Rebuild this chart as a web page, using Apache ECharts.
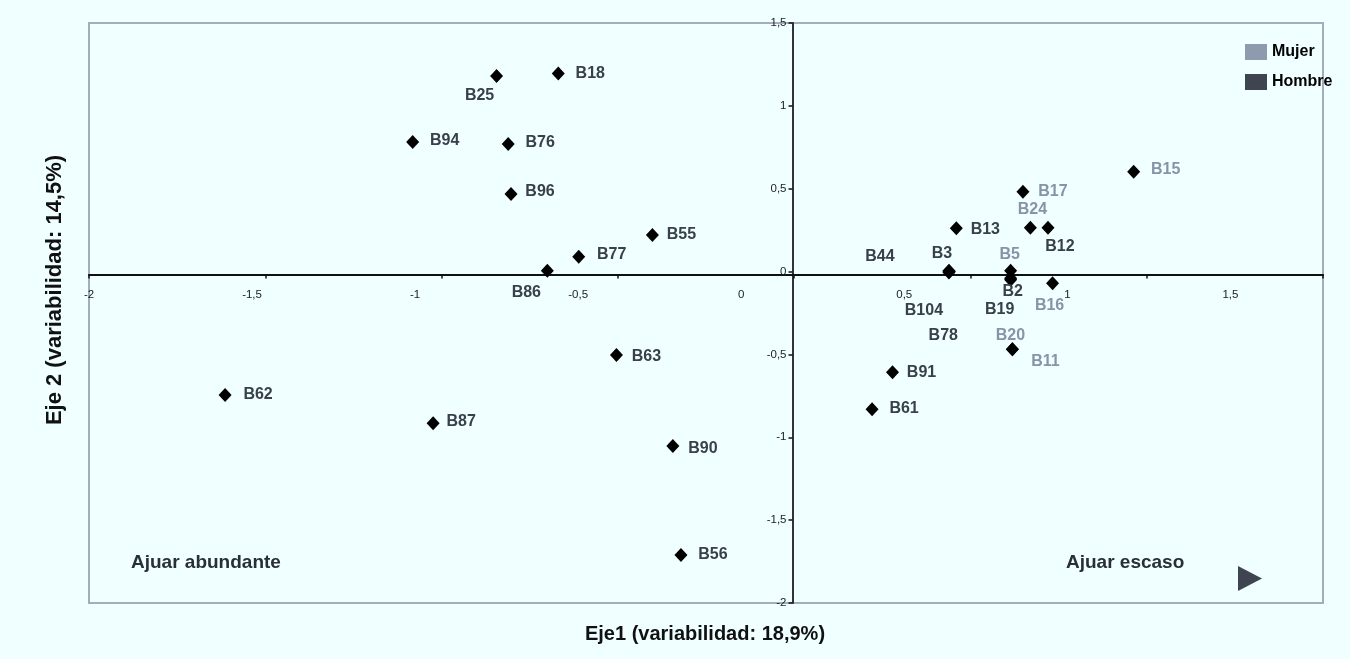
<!DOCTYPE html>
<html><head><meta charset="utf-8">
<script src="https://cdn.jsdelivr.net/npm/echarts@6/dist/echarts.min.js"></script>
<style>html,body{margin:0;padding:0;background:#f0ffff;}#c{width:1350px;height:659px;}</style>
</head><body><div id="c"></div>
<script>
// ---- data ----
const mujerNames = ['B15','B17','B24','B5','B16','B20','B11'];
const mujerX = [0.963, 0.649, 0.670, 0.614, 0.733, 0.619, 0.619];
const mujerY = [0.603, 0.482, 0.265, 0.005, -0.071, -0.469, -0.469];

const hombreNames = ['B18','B25','B94','B76','B96','B55','B77','B86','B63','B62','B87','B90','B56',
                     'B13','B12','B3','B44','B2','B104','B19','B78','B91','B61'];
const hombreX = [-0.669,-0.844,-1.082,-0.811,-0.803,-0.402,-0.611,-0.700,-0.504,-1.614,-1.024,-0.344,-0.321,
                 0.460, 0.720, 0.439, 0.439, 0.614, 0.439, 0.614, 0.440, 0.279, 0.221];
const hombreY = [1.196, 1.180, 0.782, 0.770, 0.468, 0.221, 0.090, 0.005,-0.503,-0.745,-0.916,-1.053,-1.710,
                 0.261, 0.265, 0.003, 0.003,-0.041,-0.005,-0.050, 0.000,-0.608,-0.831];

const tickValues = [-2, -1.5, -1, -0.5, 0, 0.5, 1, 1.5];
const tickLabels = ['-2', '-1,5', '-1', '-0,5', '0', '0,5', '1', '1,5'];

// ---- label placement (styling) ----
const labelOffset = {
  B18:[32,0], B25:[-17,20], B94:[32,-1], B76:[32,-1], B96:[29,-2], B55:[29,0], B77:[33,-2],
  B86:[-21,22], B63:[30,2], B62:[33,0], B87:[28,-2], B90:[30,3], B56:[32,0],
  B13:[29,1], B12:[12,19], B3:[-7,-17], B44:[-69,-14], B2:[2,13], B104:[-25,38], B19:[-11,30],
  B78:[-6,64], B91:[29,0], B61:[32,-1],
  B15:[32,-2], B17:[30,0], B24:[2,-18], B5:[-1,-16], B16:[-3,22], B20:[-2,-14], B11:[33,12]
};

const FONT = '"Liberation Sans", Arial, sans-serif';
const fmt = v => { const i = tickValues.indexOf(+v.toFixed(2)); return i >= 0 ? tickLabels[i] : ''; };

function build(names, xs, ys) {
  return names.map((n, i) => ({ name: n, value: [xs[i], ys[i]], label: { offset: labelOffset[n] } }));
}

const gridRect = { left: 89, top: 23, width: 1234, height: 580 };
// axis line placement inside the frame (Excel-style crossing axes)
const Y_AXIS_OFFSET = -703.5;  // vertical axis at x ≈ 792.5
const X_AXIS_OFFSET = -328.5;  // horizontal axis at y ≈ 274.5

const chart = echarts.init(document.getElementById('c'), null, { renderer: 'canvas' });
chart.setOption({
  backgroundColor: '#f0ffff',
  animation: false,
  grid: [
    Object.assign({ show: true, borderColor: '#a4adbb', borderWidth: 2, backgroundColor: 'transparent' }, gridRect),
    Object.assign({ show: false }, gridRect)
  ],
  xAxis: [
    { type: 'value', gridIndex: 0, min: -2, max: 1.5, interval: 0.5, position: 'bottom', offset: X_AXIS_OFFSET,
      axisLine: { onZero: false, lineStyle: { color: '#111', width: 2 } },
      axisTick: { show: true, length: 4, lineStyle: { color: '#111', width: 1.5 } },
      axisLabel: { show: false }, splitLine: { show: false } },
    { type: 'value', gridIndex: 1, min: -2, max: 1.784, interval: 0.5, position: 'bottom', offset: X_AXIS_OFFSET,
      axisLine: { show: false, onZero: false },
      axisTick: { show: false },
      axisLabel: { show: true, margin: 14, fontSize: 11.5, color: '#222', fontFamily: FONT, formatter: fmt },
      splitLine: { show: false } }
  ],
  yAxis: [
    { type: 'value', gridIndex: 0, min: -2, max: 1.5, interval: 0.5, position: 'left', offset: Y_AXIS_OFFSET,
      axisLine: { onZero: false, lineStyle: { color: '#333', width: 2 } },
      axisTick: { show: true, length: 4, lineStyle: { color: '#111', width: 1.5 } },
      axisLabel: { show: true, margin: 6, fontSize: 11.5, color: '#222', fontFamily: FONT, formatter: fmt },
      splitLine: { show: false } },
    { type: 'value', gridIndex: 1, min: -2, max: 1.5, show: false }
  ],
  legend: {
    orient: 'vertical', left: 1240, top: 39, itemWidth: 22, itemHeight: 16, itemGap: 14,
    icon: 'rect',
    textStyle: { fontSize: 16, fontWeight: 'bold', color: '#000', fontFamily: FONT },
    data: [
      { name: 'Mujer', itemStyle: { color: '#8e9aae', opacity: 1 } },
      { name: 'Hombre', itemStyle: { color: '#3e4450', opacity: 1 } }
    ]
  },
  series: [
    { name: 'Mujer', type: 'scatter', xAxisIndex: 0, yAxisIndex: 0, symbol: 'diamond', symbolSize: [13, 14],
      itemStyle: { color: '#000', opacity: 1 },
      label: { show: true, position: 'inside', formatter: '{b}', fontSize: 16, fontWeight: 'bold',
               color: '#8893a8', fontFamily: FONT },
      data: build(mujerNames, mujerX, mujerY) },
    { name: 'Hombre', type: 'scatter', xAxisIndex: 0, yAxisIndex: 0, symbol: 'diamond', symbolSize: [13, 14],
      itemStyle: { color: '#000', opacity: 1 },
      label: { show: true, position: 'inside', formatter: '{b}', fontSize: 16, fontWeight: 'bold',
               color: '#394049', fontFamily: FONT },
      data: build(hombreNames, hombreX, hombreY) }
  ],
  graphic: [
    { type: 'text', x: 131, y: 563, style: { text: 'Ajuar abundante', font: 'bold 19px ' + FONT, fill: '#2a2f36', align: 'left', verticalAlign: 'middle' } },
    { type: 'text', x: 1066, y: 563, style: { text: 'Ajuar escaso', font: 'bold 19px ' + FONT, fill: '#2a2f36', align: 'left', verticalAlign: 'middle' } },
    { type: 'polygon', shape: { points: [[1238, 566], [1262, 578.5], [1238, 591]] }, style: { fill: '#3e4450' } },
    { type: 'text', x: 705, y: 634, style: { text: 'Eje1 (variabilidad: 18,9%)', font: 'bold 20px ' + FONT, fill: '#111', align: 'center', verticalAlign: 'middle' } },
    { type: 'text', x: 55, y: 290, rotation: Math.PI / 2, style: { text: 'Eje 2 (variabilidad: 14,5%)', font: 'bold 22px ' + FONT, fill: '#111', align: 'center', verticalAlign: 'middle' } }
  ]
});
</script>
</body></html>
